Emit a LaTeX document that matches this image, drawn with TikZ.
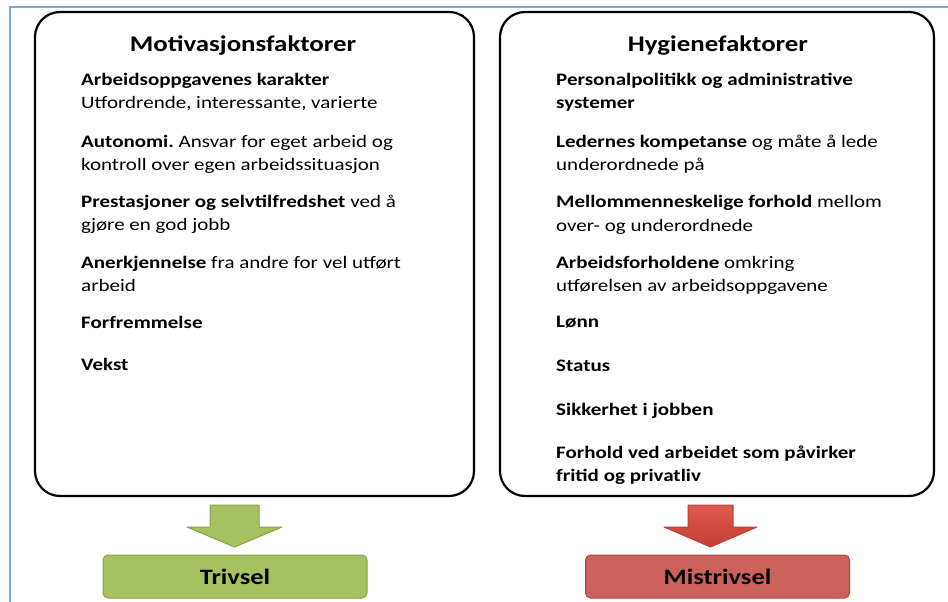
\documentclass[tikz,border=0pt]{standalone}
\usepackage{fontspec}
\setmainfont{Carlito}[FakeStretch=1.2]
\frenchspacing
\usetikzlibrary{positioning}
\definecolor{frameBlue}{HTML}{7FA9D9}
\definecolor{goodFill}{HTML}{A6C160}
\definecolor{goodDraw}{HTML}{87A244}
\definecolor{badFill}{HTML}{CD625D}
\definecolor{badDraw}{HTML}{B0453F}
\definecolor{badTop}{HTML}{E0594C}
\definecolor{badBot}{HTML}{C23F33}

\begin{document}
\begin{tikzpicture}[x=1pt,y=-1pt,every node/.style={font=\fontsize{17.5}{23.5}\selectfont}]
      \tikzstyle{panel}=[draw=black,line width=2.2pt,rounded corners=25pt,
                         minimum width=439pt,minimum height=484pt]
      \tikzstyle{title}=[anchor=base,font=\fontsize{22.4}{26}\selectfont\bfseries]
      \tikzstyle{item}=[anchor=north west,inner sep=0pt,align=left]
      \tikzstyle{result}=[rounded corners=5pt,line width=1pt,minimum width=264pt,
                          minimum height=43pt,font=\fontsize{22}{26}\selectfont\bfseries]
      \useasboundingbox (0,0) rectangle (948,602);

      % frame
      \draw[frameBlue,line width=1.5pt] (10,602) -- (10,7) -- (948,7);

      % the two panels
      \node[panel] (mot) at (254.5,254) {};
      \node[panel,minimum width=434pt] (hyg) at (717,254) {};
      \node[title] (motT) at (243,52) {Motivasjonsfaktorer};
      \node[title] (hygT) at (718,52) {Hygienefaktorer};

      % motivasjonsfaktorer
      \node[item] (m1) at (81,68.5) {\strut\textbf{Arbeidsoppgavenes karakter}\\Utfordrende, interessante, varierte};
      \node[item] (m2) at (81,130.5) {\strut\textbf{Autonomi.} Ansvar for eget arbeid og\\kontroll over egen arbeidssituasjon};
      \node[item] (m3) at (81,190.5) {\strut\textbf{Prestasjoner og selvtilfredshet} ved å\\gjøre en god jobb};
      \node[item] (m4) at (81,251.5) {\strut\textbf{Anerkjennelse} fra andre for vel utført\\arbeid};
      \node[item] (m5) at (81,312) {\strut\textbf{Forfremmelse}};
      \node[item] (m6) at (81,354) {\strut\textbf{Vekst}};

      % hygienefaktorer
      \node[item] (h1) at (556,68.5) {\strut\textbf{Personalpolitikk og administrative}\\\textbf{systemer}};
      \node[item] (h2) at (556,130.5) {\strut\textbf{Ledernes kompetanse} og måte å lede\\underordnede på};
      \node[item] (h3) at (556,191) {\strut\textbf{Mellommenneskelige forhold} mellom\\over- og underordnede};
      \node[item] (h4) at (556,251.5) {\strut\textbf{Arbeidsforholdene} omkring\\utførelsen av arbeidsoppgavene};
      \node[item] (h5) at (556,311) {\strut\textbf{Lønn}};
      \node[item] (h6) at (556,354.5) {\strut\textbf{Status}};
      \node[item] (h7) at (556,398.5) {\strut\textbf{Sikkerhet i jobben}};
      \node[item] (h8) at (556,441.5) {\strut\textbf{Forhold ved arbeidet som påvirker}\\\textbf{fritid og privatliv}};

      % results
      \node[result,fill=goodFill,draw=goodDraw] (trivsel) at (235,576.5) {Trivsel};
      \node[result,fill=badFill,draw=badDraw] (mistrivsel) at (717.5,576.5) {Mistrivsel};

      % block arrows
      \coordinate (motA) at (210,505);
      \coordinate (hygA) at (688,505);
      \filldraw[fill=goodFill,draw=goodDraw,line width=1pt,line join=round]
        (motA) -- ++(49,0) -- ++(0,22) -- ++(23,0) -- ++(-47.5,20) -- ++(-47.5,-20) -- ++(23,0) -- cycle;
      \shade[top color=badTop,bottom color=badBot,draw=badDraw,line width=1pt,line join=round]
        (hygA) -- ++(45,0) -- ++(0,22) -- ++(24,0) -- ++(-46.5,20) -- ++(-46.5,-20) -- ++(24,0) -- cycle;
    \end{tikzpicture}
\end{document}
